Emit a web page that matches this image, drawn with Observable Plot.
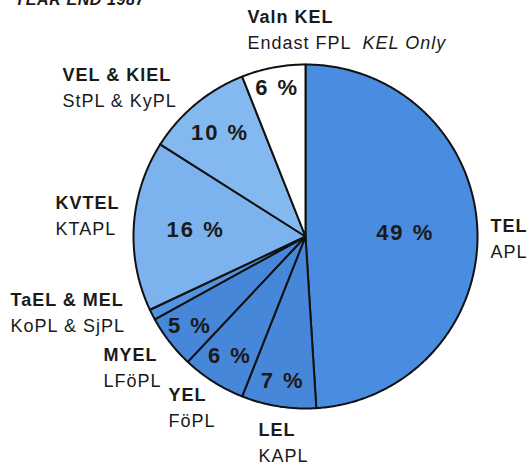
<!DOCTYPE html>
<html>
<head>
<meta charset="utf-8">
<script src="https://cdn.jsdelivr.net/npm/d3@7"></script>
<script src="https://cdn.jsdelivr.net/npm/@observablehq/plot@0.6"></script>
<style>
  body { margin: 0; background: #fff; }
  #chart svg { font-family: "Liberation Sans", Arial, Helvetica, sans-serif; }
  #chart svg g[font-size="18"] text { letter-spacing: 1px; }
  #chart svg g[font-size="22"] text { letter-spacing: 2px; }
  #chart svg g[font-size="16"] text { letter-spacing: 0.6px; }
</style>
</head>
<body>
<div id="chart"></div>
<script>
// ---- data ----
const codes  = ["TEL", "LEL", "YEL", "MYEL", "TaEL & MEL", "KVTEL", "VEL & KIEL", "Valn KEL"];
const names  = ["APL", "KAPL", "FöPL", "LFöPL", "KoPL & SjPL", "KTAPL", "StPL & KyPL", "Endast FPL"];
const shares = [49, 7, 6, 5, 1, 16, 10, 6];
const pctLabels = ["49 %", "7 %", "6 %", "5 %", "", "16 %", "10 %", "6 %"];
const title = "YEAR END 1987";
const englishNote = "KEL Only";

// ---- styles / layout (kept apart from the data) ----
const colors = ["#4a8de0", "#4687d9", "#4687d9", "#4687d9", "#5293e2", "#7cb3ee", "#84b9ef", "#ffffff"];
const pctRadius = [0.58, 0.85, 0.82, 0.85, 0, 0.64, 0.78, 0.88];
const labelX = [1.076, -0.273, -0.797, -1.174, -1.715, -1.453, -1.413, -0.337];
const labelY = [0.058, -1.128, -0.924, -0.692, -0.372, 0.192, 0.936, 1.276];

// ---- build geometry from data ----
const pie = d3.pie().sort(null).value(d => d)(shares);
const slicePts = [];
const pctRows = [];
const labelRows = [];
codes.forEach((c, i) => {
  const a0 = pie[i].startAngle, a1 = pie[i].endAngle;
  slicePts.push({code: c, x: 0, y: 0});
  const n = Math.max(4, Math.ceil((a1 - a0) / 0.01));
  for (let k = 0; k <= n; k++) {
    const a = a0 + (a1 - a0) * k / n;
    slicePts.push({code: c, x: Math.sin(a), y: Math.cos(a)});
  }
  slicePts.push({code: c, x: 0, y: 0});
  const m = (a0 + a1) / 2;
  if (pctLabels[i]) pctRows.push({t: pctLabels[i], x: pctRadius[i] * Math.sin(m), y: pctRadius[i] * Math.cos(m)});
  labelRows.push({code: c, name: names[i], x: labelX[i], y: labelY[i]});
});

const font = "Liberation Sans, Arial, Helvetica, sans-serif";
const chart = Plot.plot({
  width: 527,
  height: 466,
  marginLeft: 133,
  marginRight: 50,
  marginTop: 64,
  marginBottom: 58,
  x: {domain: [-1, 1], axis: null},
  y: {domain: [-1, 1], axis: null},
  color: {domain: codes, range: colors},
  style: {background: "#fff", color: "#1a1a1a", fontFamily: font, overflow: "visible"},
  marks: [
    Plot.line(slicePts, {x: "x", y: "y", z: "code", fill: "code", stroke: "#111", strokeWidth: 2, strokeLinejoin: "round"}),
    Plot.text(pctRows, {x: "x", y: "y", text: "t", fontSize: 22, fontWeight: "bold", fill: "#1a1a1a"}),
    Plot.text(labelRows, {x: "x", y: "y", text: "code", textAnchor: "start", fontSize: 18, fontWeight: "bold", fill: "#1a1a1a"}),
    Plot.text(labelRows, {x: "x", y: "y", text: "name", textAnchor: "start", dy: 26, fontSize: 18, fill: "#1a1a1a"}),
    Plot.text(labelRows.filter(d => d.code === "Valn KEL"), {x: "x", y: "y", text: () => englishNote, textAnchor: "start", dx: 115, dy: 26, fontSize: 18, fontStyle: "italic", fill: "#1a1a1a"}),
    Plot.text([title], {frameAnchor: "top-left", text: d => d, textAnchor: "start", lineAnchor: "bottom", dx: -119, dy: -60, fontSize: 16, fontStyle: "italic", fontWeight: "bold", fill: "#1a1a1a"})
  ]
});
document.getElementById("chart").appendChild(chart);
</script>
</body>
</html>
